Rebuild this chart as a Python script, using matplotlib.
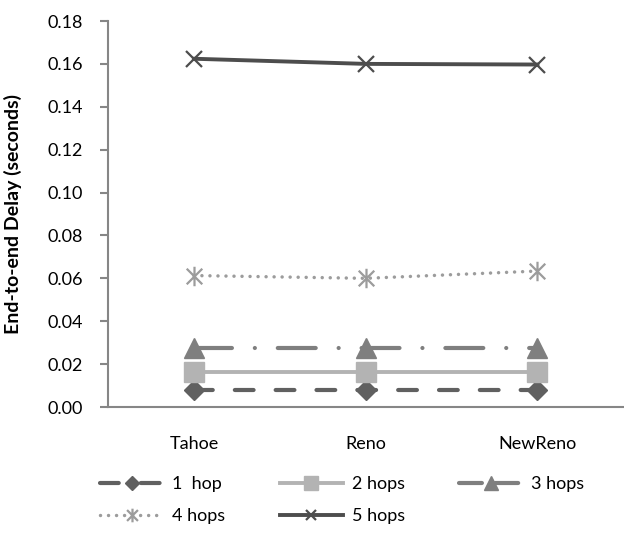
import matplotlib
matplotlib.use("Agg")
import matplotlib.pyplot as plt
from matplotlib.lines import Line2D
from matplotlib.path import Path

# Values
protocols = ["Tahoe", "Reno", "NewReno"]
hop_labels = ["1  hop", "2 hops", "3 hops", "4 hops", "5 hops"]
delay_1hop = [0.0079, 0.0079, 0.0079]
delay_2hops = [0.0164, 0.0164, 0.0164]
delay_3hops = [0.0276, 0.0276, 0.0276]
delay_4hops = [0.0613, 0.0600, 0.0634]
delay_5hops = [0.1624, 0.1600, 0.1597]
y_ticks = [0.00, 0.02, 0.04, 0.06, 0.08, 0.10, 0.12, 0.14, 0.16, 0.18]

plt.rcParams["font.family"] = ["Lato", "DejaVu Sans"]
axis_grey = "#868686"

# X with a vertical bar, like Excel's "star" marker
star_marker = Path(
    [(-1, -1), (1, 1), (-1, 1), (1, -1), (0, -1.25), (0, 1.25)],
    [Path.MOVETO, Path.LINETO, Path.MOVETO, Path.LINETO, Path.MOVETO, Path.LINETO],
)

fig = plt.figure(figsize=(6.24, 5.34), dpi=100)
ax = fig.add_axes([108 / 624, 1 - 407 / 534, 1 - 108 / 624 - 0.001, (407 - 21) / 534])

x = range(len(protocols))
series = [
    (delay_1hop, dict(color="#606060", lw=3, ls=(0, (4.5, 5.3)), marker="D", ms=10,
                      dash_capstyle="round")),
    (delay_2hops, dict(color="#b3b3b3", lw=2.8, ls="-", marker="s", ms=14)),
    (delay_3hops, dict(color="#7f7f7f", lw=3, ls=(0, (9.1, 5.5, 0.01, 5.5)), marker="^",
                       ms=15, dash_capstyle="round")),
    (delay_4hops, dict(color="#9c9c9c", lw=2.5, ls=(0, (0.01, 2.3)), marker=star_marker,
                       ms=14, mew=1.6, dash_capstyle="round")),
    (delay_5hops, dict(color="#4d4d4d", lw=2.8, ls="-", marker="x", ms=11, mew=1.6)),
]
handles = []
for (vals, style), label in zip(series, hop_labels):
    (ln,) = ax.plot(x, vals, label=label, mec=style["color"], mfc=style["color"], **style)
    handles.append(ln)

# the dash-dot pattern is too long for the legend swatch, use a plain dash there
handles[2] = Line2D([], [], color="#7f7f7f", lw=3, ls=(0, (5.5, 3.2)), marker="^",
                    ms=15, mec="#7f7f7f", mfc="#7f7f7f", dash_capstyle="round")

ax.set_xlim(-0.5, 2.5)
ax.set_ylim(0, 0.18)
ax.set_yticks(y_ticks)
ax.set_yticklabels([f"{t:.2f}" for t in y_ticks])
ax.set_xticks(list(x))
ax.set_xticklabels(protocols)

for side in ("top", "right"):
    ax.spines[side].set_visible(False)
for side in ("left", "bottom"):
    ax.spines[side].set_color(axis_grey)
    ax.spines[side].set_linewidth(1.5)
ax.tick_params(axis="y", length=6, width=1.5, color=axis_grey, pad=12, labelsize=13)
ax.tick_params(axis="x", length=0, pad=21, labelsize=13)

ax.set_ylabel("End-to-end Delay (seconds)", fontsize=14, fontweight="bold")
ax.yaxis.set_label_coords(-(108 - 22) / (624 - 108), 0.5)

# legend fills column by column, so reorder to get Excel's row order
order = [0, 3, 1, 4, 2]
fig.legend(
    [handles[i] for i in order],
    [hop_labels[i] for i in order],
    loc="upper left",
    bbox_to_anchor=(100 / 624, 1 - 476 / 534),
    ncol=3,
    frameon=False,
    fontsize=13,
    handlelength=3.5,
    handletextpad=0.5,
    columnspacing=3.0,
    labelspacing=0.9,
    borderpad=0,
    borderaxespad=0,
    numpoints=1,
    markerscale=0.7,
)

fig.savefig("out.png", dpi=100)
